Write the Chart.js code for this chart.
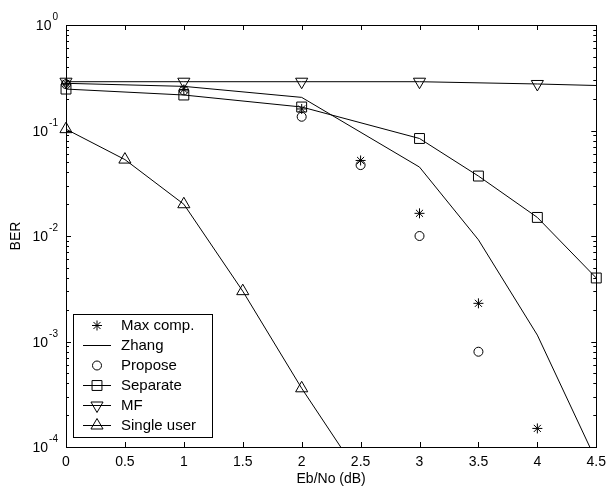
<!DOCTYPE html>
<html>
<head>
<meta charset="utf-8">
<script src="https://cdn.jsdelivr.net/npm/chart.js@4.4.1/dist/chart.umd.min.js"></script>
<style>
  html, body { margin: 0; padding: 0; background: #fff; }
</style>
</head>
<body>
<canvas id="ber" width="613" height="492"></canvas>
<script>
// BER against Eb/No for the different detectors
const maxCompEbNo = [0, 1, 2, 2.5, 3, 3.5, 4];
const maxCompBer = [0.28, 0.245, 0.16, 0.052, 0.0164, 0.0023, 0.00015];

const zhangEbNo = [0, 1, 2, 3, 3.5, 4, 4.5];
const zhangBer = [0.28, 0.262, 0.206, 0.045, 0.0092, 0.00115, 0.000074];

const proposeEbNo = [0, 1, 2, 2.5, 3, 3.5];
const proposeBer = [0.275, 0.24, 0.135, 0.047, 0.010, 0.0008];

const separateEbNo = [0, 1, 2, 3, 3.5, 4, 4.5];
const separateBer = [0.247, 0.217, 0.167, 0.084, 0.037, 0.015, 0.004];

const mfEbNo = [0, 1, 2, 3, 4, 4.5];
const mfBer = [0.29, 0.29, 0.29, 0.29, 0.276, 0.267];

const singleEbNo = [0, 0.5, 1, 1.5, 2, 2.5];
const singleBer = [0.103, 0.053, 0.020, 0.003, 0.00036, 0.000052];

const yDecades = [0, -1, -2, -3, -4];

const FONT = '"Liberation Sans", Arial, sans-serif';
Chart.defaults.font.family = FONT;
Chart.defaults.font.size = 14;
Chart.defaults.color = '#000';

function pts(xs, ys) {
  return xs.map((x, i) => ({ x: x, y: ys[i] }));
}

const clipBox = { left: 10, top: 10, right: 10, bottom: 0 };
const hollow = 'rgba(0,0,0,0)';

function series(label, xs, ys, extra) {
  return Object.assign({
    label: label,
    data: pts(xs, ys),
    borderColor: '#000',
    backgroundColor: hollow,
    pointBackgroundColor: hollow,
    pointBorderColor: '#000',
    borderWidth: 1,
    pointBorderWidth: 1,
    pointHoverRadius: 0,
    tension: 0,
    clip: clipBox
  }, extra);
}

const datasets = [
  series('Max comp.', maxCompEbNo, maxCompBer, { showLine: false, pointStyle: 'star', pointRadius: 5 }),
  series('Zhang', zhangEbNo, zhangBer, { pointRadius: 0 }),
  series('Propose', proposeEbNo, proposeBer, { showLine: false, pointStyle: 'circle', pointRadius: 4.5 }),
  series('Separate', separateEbNo, separateBer, { pointStyle: 'rect', pointRadius: 7 }),
  series('MF', mfEbNo, mfBer, { pointStyle: 'triangle', pointRotation: 180,
    pointRadius: mfEbNo.map(x => x > 4 ? 0 : 7) }),
  series('Single user', singleEbNo, singleBer, { pointStyle: 'triangle',
    pointRadius: singleEbNo.map(x => x > 2 ? 0 : 7) })
];

// frame, inward ticks, 10^n labels, titles and legend
const decor = {
  id: 'decor',
  afterDatasetsDraw(chart) {
    const ctx = chart.ctx;
    const a = chart.chartArea;
    const xs = chart.scales.x, ys = chart.scales.y;
    ctx.save();
    ctx.strokeStyle = '#000';
    ctx.lineWidth = 1;
    ctx.strokeRect(Math.round(a.left) + 0.5, Math.round(a.top) + 0.5,
      Math.round(a.right - a.left), Math.round(a.bottom - a.top));

    ctx.beginPath();
    xs.ticks.forEach(t => {
      const px = Math.round(xs.getPixelForValue(t.value)) + 0.5;
      ctx.moveTo(px, a.bottom); ctx.lineTo(px, a.bottom - 5);
      ctx.moveTo(px, a.top); ctx.lineTo(px, a.top + 5);
    });
    for (let e = -4; e <= 0; e++) {
      for (let m = 1; m <= (e === 0 ? 1 : 9); m++) {
        const py = Math.round(ys.getPixelForValue(m * Math.pow(10, e))) + 0.5;
        const len = m === 1 ? 5 : 3;
        ctx.moveTo(a.left, py); ctx.lineTo(a.left + len, py);
        ctx.moveTo(a.right, py); ctx.lineTo(a.right - len, py);
      }
    }
    ctx.stroke();

    // y labels as 10 with superscript exponent
    ctx.fillStyle = '#000';
    ctx.textBaseline = 'alphabetic';
    ctx.textAlign = 'left';
    yDecades.forEach(n => {
      const py = ys.getPixelForValue(Math.pow(10, n));
      ctx.font = '14px ' + FONT;
      const w10 = ctx.measureText('10').width;
      ctx.font = '10px ' + FONT;
      const sup = String(n);
      const ws = ctx.measureText(sup).width;
      const x0 = 58 - (w10 + 1 + ws);
      ctx.font = '14px ' + FONT;
      ctx.fillText('10', x0, py + 5);
      ctx.font = '10px ' + FONT;
      ctx.fillText(sup, x0 + w10 + 1, py - 5);
    });

    // axis titles
    ctx.font = '14px ' + FONT;
    ctx.textAlign = 'center';
    ctx.textBaseline = 'middle';
    ctx.fillText('Eb/No (dB)', (a.left + a.right) / 2, 479);
    ctx.save();
    ctx.translate(16, (a.top + a.bottom) / 2);
    ctx.rotate(-Math.PI / 2);
    ctx.fillText('BER', 0, 0);
    ctx.restore();

    // legend
    const lx = 73, ly = 314, lw = 139, lh = 123;
    ctx.fillStyle = '#fff';
    ctx.fillRect(lx, ly, lw, lh);
    ctx.strokeRect(lx + 0.5, ly + 0.5, lw, lh);
    ctx.textAlign = 'left';
    ctx.font = '15px ' + FONT;
    chart.data.datasets.forEach((ds, i) => {
      const cy = ly + 11 + i * 20;
      if (ds.showLine !== false) {
        ctx.beginPath();
        ctx.moveTo(83, Math.round(cy) + 0.5);
        ctx.lineTo(111, Math.round(cy) + 0.5);
        ctx.stroke();
      }
      if (ds.pointStyle) {
        ctx.fillStyle = hollow;
        Chart.helpers.drawPoint(ctx, {
          pointStyle: ds.pointStyle,
          rotation: ds.pointRotation || 0,
          radius: Array.isArray(ds.pointRadius) ? ds.pointRadius[0] : ds.pointRadius,
          borderWidth: 1
        }, 97, cy + 0.5);
      }
      ctx.fillStyle = '#000';
      ctx.textBaseline = 'middle';
      ctx.fillText(ds.label, 121, cy + 1);
    });
    ctx.restore();
  }
};

new Chart(document.getElementById('ber'), {
  type: 'line',
  data: { datasets: datasets },
  options: {
    responsive: false,
    animation: false,
    events: [],
    layout: { padding: { top: 25, right: 13, left: 0, bottom: 0 } },
    plugins: { legend: { display: false }, tooltip: { enabled: false } },
    scales: {
      x: {
        type: 'linear',
        min: 0,
        max: 4.5,
        grid: { display: false, drawTicks: false },
        border: { display: false },
        ticks: { stepSize: 0.5, padding: 7, maxRotation: 0, autoSkip: false,
          callback: v => String(v) },
        afterFit: s => { s.height = 45; }
      },
      y: {
        type: 'logarithmic',
        min: 1e-4,
        max: 1,
        grid: { display: false, drawTicks: false },
        border: { display: false },
        ticks: { display: false },
        afterFit: s => { s.width = 66; }
      }
    }
  },
  plugins: [decor]
});
</script>
</body>
</html>
